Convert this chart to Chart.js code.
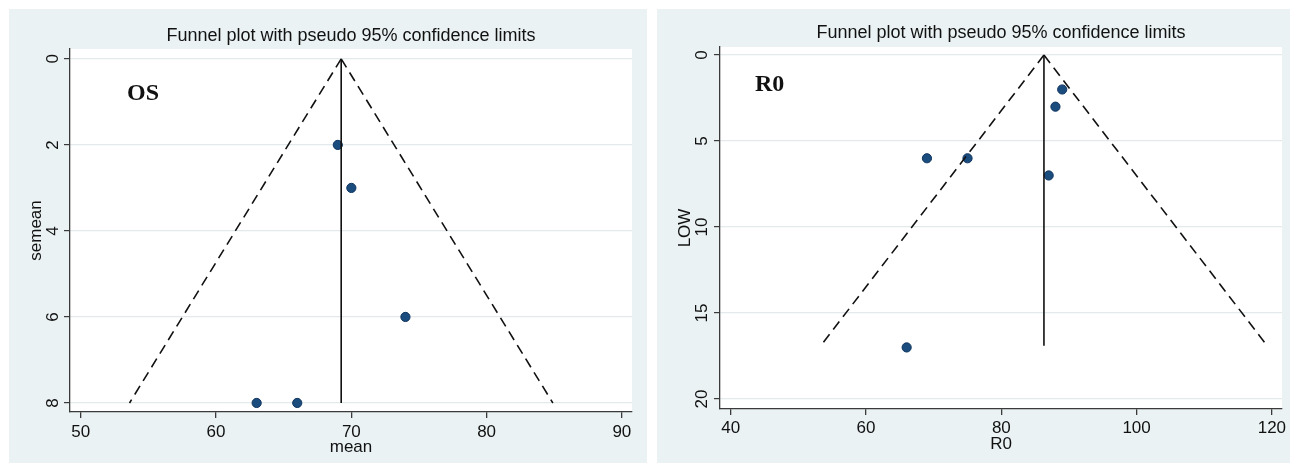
<!DOCTYPE html>
<html>
<head>
<meta charset="utf-8">
<script src="https://cdn.jsdelivr.net/npm/chart.js@4"></script>
<style>
  html, body { margin: 0; padding: 0; background: #ffffff; }
  body { width: 1290px; height: 464px; position: relative; overflow: hidden; }
  .panel { position: absolute; background: #eaf2f3; }
  #leftPanel { left: 9px; top: 9px; width: 638px; height: 454px; }
  #rightPanel { left: 657px; top: 9px; width: 633px; height: 454px; }
</style>
</head>
<body>
<div class="panel" id="leftPanel"><canvas id="osChart" width="638" height="454"></canvas></div>
<div class="panel" id="rightPanel"><canvas id="r0Chart" width="633" height="454"></canvas></div>
<script>
// OS panel
const osMean = [69, 70, 74, 63, 66];
const osSemean = [2, 3, 6, 8, 8];
const osFunnelX = [53.6, 69.25, 84.9];
const osFunnelY = [8, 0, 8];
const osXTicks = [50, 60, 70, 80, 90];
const osYTicks = [0, 2, 4, 6, 8];

// R0 panel
const r0Values = [89, 88, 69, 75, 87, 66];
const r0Low = [2, 3, 6, 6, 7, 17];
const r0FunnelX = [53.3, 86.3, 119.3];
const r0FunnelY = [16.9, 0, 16.9];
const r0XTicks = [40, 60, 80, 100, 120];
const r0YTicks = [0, 5, 10, 15, 20];

const FONT = '"Liberation Sans", Arial, sans-serif';
const TEXT = '#111111';

// draws title, panel tag, rotated y tick labels and y title
const stataDecor = {
    id: 'stataDecor',
    beforeDraw(chart) {
        const a = chart.chartArea;
        const ctx = chart.ctx;
        ctx.save();
        ctx.fillStyle = '#ffffff';
        ctx.fillRect(a.left, a.top, a.right - a.left, a.bottom - a.top);
        ctx.restore();
    },
    afterDraw(chart, args, opts) {
        const a = chart.chartArea;
        const ctx = chart.ctx;
        const yScale = chart.scales.y;
        ctx.save();
        ctx.fillStyle = TEXT;
        ctx.font = '18px ' + FONT;
        ctx.textAlign = 'center';
        ctx.textBaseline = 'middle';
        ctx.fillText(opts.title, (a.left + a.right) / 2, opts.titleY);

        ctx.font = '17px ' + FONT;
        // rotated y tick labels
        yScale.ticks.forEach(t => {
            const y = yScale.getPixelForValue(t.value);
            ctx.save();
            ctx.translate(opts.tickX, y);
            ctx.rotate(-Math.PI / 2);
            ctx.fillText(String(t.value), 0, 0);
            ctx.restore();
        });

        // y axis title
        ctx.save();
        ctx.translate(opts.yTitleX, (a.top + a.bottom) / 2);
        ctx.rotate(-Math.PI / 2);
        ctx.fillText(opts.yTitle, 0, 0);
        ctx.restore();

        // panel tag
        ctx.font = 'bold 24px "Liberation Serif", "Times New Roman", serif';
        ctx.textAlign = 'left';
        ctx.textBaseline = 'alphabetic';
        ctx.fillText(opts.tag, opts.tagX, opts.tagY);
        ctx.restore();
    }
};

function makeFunnel(canvasId, c) {
    const points = c.xs.map((x, i) => ({ x: x, y: c.ys[i] }));
    const apex = { x: c.funnelX[1], y: c.funnelY[1] };
    const leftBase = { x: c.funnelX[0], y: c.funnelY[0] };
    const rightBase = { x: c.funnelX[2], y: c.funnelY[2] };
    const centreBase = { x: c.funnelX[1], y: c.funnelY[0] };

    const lineDs = (data, dash) => ({
        type: 'line',
        data: data,
        showLine: true,
        borderColor: '#111111',
        borderWidth: 1.6,
        borderDash: dash,
        pointRadius: 0,
        fill: false
    });

    return new Chart(document.getElementById(canvasId).getContext('2d'), {
        type: 'scatter',
        data: {
            datasets: [
                lineDs([apex, leftBase], [10, 6]),
                lineDs([apex, rightBase], [10, 6]),
                lineDs([apex, centreBase], []),
                {
                    data: points,
                    backgroundColor: '#1b4c7e',
                    borderColor: '#0f3560',
                    borderWidth: 1,
                    pointRadius: 4.6
                }
            ]
        },
        options: {
            responsive: false,
            animation: false,
            layout: { padding: { top: c.padTop, right: c.padRight, left: 0, bottom: 0 } },
            plugins: {
                legend: { display: false },
                tooltip: { enabled: false },
                stataDecor: c.decor
            },
            scales: {
                x: {
                    type: 'linear',
                    min: c.xMin,
                    max: c.xMax,
                    afterBuildTicks: s => { s.ticks = c.xTicks.map(v => ({ value: v })); },
                    afterFit: s => { s.height = c.xAxisHeight; },
                    border: { color: '#3a3a3a', width: 1.3 },
                    grid: { drawOnChartArea: false, drawTicks: true, tickLength: 6, tickColor: '#3a3a3a', lineWidth: 1.3 },
                    ticks: { color: TEXT, font: { family: FONT, size: 17 }, padding: c.xTickPad, maxRotation: 0 },
                    title: {
                        display: true, text: c.xTitle, color: TEXT,
                        font: { family: FONT, size: 17 },
                        padding: { top: c.xTitlePad, bottom: c.xTitlePad }
                    }
                },
                y: {
                    type: 'linear',
                    reverse: true,
                    min: c.yMin,
                    max: c.yMax,
                    afterBuildTicks: s => { s.ticks = c.yTicks.map(v => ({ value: v })); },
                    afterFit: s => { s.width = c.yAxisWidth; },
                    border: { color: '#3a3a3a', width: 1.3 },
                    grid: { color: '#e4eaec', lineWidth: 1.2, drawTicks: true, tickLength: 6, tickColor: '#3a3a3a' },
                    ticks: { display: false }
                }
            }
        },
        plugins: [stataDecor]
    });
}

makeFunnel('osChart', {
    xs: osMean, ys: osSemean, funnelX: osFunnelX, funnelY: osFunnelY,
    xTicks: osXTicks, yTicks: osYTicks,
    xMin: 49.2, xMax: 90.75, yMin: -0.23, yMax: 8.21,
    padTop: 40, padRight: 15, yAxisWidth: 61, xAxisHeight: 51,
    xTickPad: 4, xTitle: 'mean', xTitlePad: 5,
    decor: { title: 'Funnel plot with pseudo 95% confidence limits', titleY: 27,
             tickX: 44, yTitle: 'semean', yTitleX: 27, tag: 'OS', tagX: 118, tagY: 91 }
});

makeFunnel('r0Chart', {
    xs: r0Values, ys: r0Low, funnelX: r0FunnelX, funnelY: r0FunnelY,
    xTicks: r0XTicks, yTicks: r0YTicks,
    xMin: 38.4, xMax: 121.5, yMin: -0.47, yMax: 20.58,
    padTop: 38, padRight: 8, yAxisWidth: 63, xAxisHeight: 54,
    xTickPad: 3, xTitle: 'R0', xTitlePad: 8,
    decor: { title: 'Funnel plot with pseudo 95% confidence limits', titleY: 24,
             tickX: 45, yTitle: 'LOW', yTitleX: 28, tag: 'R0', tagX: 98, tagY: 82 }
});
</script>
</body>
</html>
